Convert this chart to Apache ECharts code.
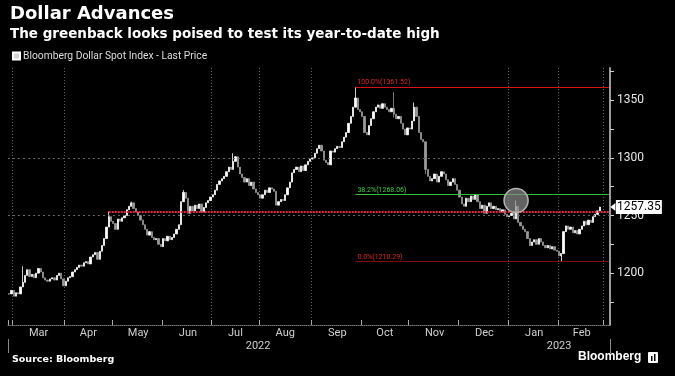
<!DOCTYPE html>
<html>
<head>
<meta charset="utf-8">
<script src="https://cdn.jsdelivr.net/npm/echarts@6/dist/echarts.min.js"></script>
<style>
html,body{margin:0;padding:0;background:#000;}
#main{width:675px;height:376px;}
</style>
</head>
<body>
<div id="main"></div>
<script>
// 美元指数 日K（Bloomberg Dollar Spot Index）
var startDate = '2022-02-25';
var endDate = '2023-03-03';
var seriesName = 'Bloomberg Dollar Spot Index - Last Price';
var firstOpen = 1182;
var closes = [
    // 2022-02
    1182, 1185,
    // 03
    1180, 1183, 1182, 1188, 1192, 1198, 1203, 1197, 1199, 1196, 1200, 1204, 1201, 1196, 1194, 1193, 1195, 1196, 1194, 1198, 1200, 1195, 1189,
    // 04
    1193, 1196, 1197, 1201, 1203, 1205, 1207, 1206, 1209, 1210, 1208, 1214, 1216, 1218, 1212, 1219, 1224, 1230, 1240, 1249, 1245,
    // 05
    1243, 1238, 1247, 1245, 1248, 1250, 1255, 1258, 1261, 1256, 1253, 1250, 1246, 1242, 1238, 1233, 1236, 1231, 1229, 1230, 1225, 1223,
    // 06
    1230, 1228, 1232, 1229, 1231, 1234, 1238, 1242, 1262, 1270, 1265, 1252, 1258, 1254, 1259, 1256, 1260, 1253, 1257, 1261, 1263, 1266,
    // 07
    1268, 1272, 1277, 1280, 1282, 1284, 1288, 1292, 1290, 1297, 1301, 1292, 1286, 1283, 1279, 1282, 1276, 1279, 1273, 1270, 1268,
    // 08
    1265, 1268, 1272, 1270, 1274, 1273, 1271, 1259, 1262, 1264, 1263, 1268, 1274, 1279, 1287, 1290, 1292, 1288, 1293, 1289, 1294, 1297, 1299,
    // 09
    1300, 1304, 1308, 1311, 1306, 1298, 1296, 1294, 1306, 1305, 1308, 1310, 1309, 1314, 1318, 1322, 1330, 1336, 1344, 1352, 1342, 1340,
    // 10
    1336, 1322, 1320, 1328, 1334, 1340, 1344, 1346, 1343, 1347, 1344, 1342, 1340, 1343, 1338, 1334, 1336, 1330, 1325, 1320, 1326,
    // 11
    1325, 1332, 1344, 1336, 1322, 1316, 1314, 1290, 1284, 1280, 1282, 1286, 1279, 1284, 1288, 1286, 1281, 1276, 1279, 1282, 1277, 1272,
    // 12
    1266, 1260, 1258, 1265, 1262, 1267, 1264, 1268, 1262, 1256, 1259, 1252, 1258, 1261, 1256, 1258, 1255, 1256, 1253, 1255, 1251, 1249,
    // 2023-01
    1250, 1252, 1247, 1258, 1244, 1241, 1238, 1236, 1230, 1224, 1227, 1229, 1225, 1230, 1227, 1224, 1222, 1224, 1221, 1223, 1220, 1219,
    // 02
    1215, 1217, 1236, 1241, 1238, 1240, 1235, 1237, 1234, 1238, 1241, 1245, 1242, 1246, 1244, 1249, 1251, 1254, 1257.35
];
// 影线
var wickDates = ['2022-03-07', '2022-04-28', '2022-05-12', '2022-06-14', '2022-07-14', '2022-09-28', '2022-10-21', '2022-11-03', '2022-11-10', '2023-01-05', '2023-02-02'];
var wickLows  = [null, null, null, null, null, null, 1335, null, 1286, null, 1210.29];
var wickHighs = [1206, 1253.5, 1262, 1272, 1304, 1361.52, 1357, 1348, null, 1263, null];

var fibStart = '2022-09-28';
var fibNames = ['100.0%', '38.2%', '0.0%'];
var fibValues = [1361.52, 1268.06, 1210.29];
var fibColors = ['#d41414', '#2fbf2f', '#7d0c0c'];
var fibLabelColors = ['#e02525', '#3ccf3c', '#e02525'];

var levelStart = '2022-04-28';
var levelValue = 1253.5;
var gridValues = [1250, 1300];
var gridDates = ['2022-03-01', '2022-04-01', '2022-07-01', '2022-08-01', '2022-09-01', '2023-01-02', '2023-02-01', '2023-03-01'];
var yLabels = [1200, 1250, 1300, 1350];
var yTicks = [1175, 1200, 1225, 1250, 1275, 1300, 1325, 1350, 1375];
var monthNames = ['Jan', 'Feb', 'Mar', 'Apr', 'May', 'Jun', 'Jul', 'Aug', 'Sep', 'Oct', 'Nov', 'Dec'];
var circleDate = '2023-01-05';
var circleValue = 1263;

// 交易日
function weekdays(from, to) {
    var out = [];
    var d = new Date(from + 'T00:00:00Z');
    var end = new Date(to + 'T00:00:00Z');
    while (d <= end) {
        var w = d.getUTCDay();
        if (w !== 0 && w !== 6) out.push(d.toISOString().slice(0, 10));
        d.setUTCDate(d.getUTCDate() + 1);
    }
    return out;
}
var dates = weekdays(startDate, endDate);
var lastDate = dates[dates.length - 1];
var lastPrice = closes[closes.length - 1];

var candles = closes.map(function (c, i) {
    var o = i === 0 ? firstOpen : closes[i - 1];
    var lo = Math.min(o, c), hi = Math.max(o, c);
    var k = wickDates.indexOf(dates[i]);
    if (k >= 0) {
        if (wickLows[k] != null) lo = wickLows[k];
        if (wickHighs[k] != null) hi = wickHighs[k];
    }
    return [o, c, lo, hi];
});

// 月份标签位置 / 月初刻度
var monthFirst = {}, monthCount = {}, monthLabelIdx = {}, monthStartIdx = {};
dates.forEach(function (d, i) {
    var key = d.slice(0, 7);
    if (monthFirst[key] == null) { monthFirst[key] = i; monthCount[key] = 0; monthStartIdx[i] = true; }
    monthCount[key]++;
});
Object.keys(monthFirst).forEach(function (key) {
    if (monthCount[key] >= 15) monthLabelIdx[monthFirst[key] + Math.floor(monthCount[key] / 2)] = key;
});
var yearFirst = {}, yearLast = {}, yearLabelIdx = {};
dates.forEach(function (d, i) {
    var y = d.slice(0, 4);
    if (yearFirst[y] == null) yearFirst[y] = i;
    yearLast[y] = i;
});
Object.keys(yearFirst).forEach(function (y) {
    yearLabelIdx[Math.round((yearFirst[y] + yearLast[y]) / 2)] = y;
});
var yearBreak = yearFirst['2023'];

// 斐波那契线，各自一个空系列
var fibSeries = fibValues.map(function (v, i) {
    return {
        type: 'line',
        data: [],
        silent: true,
        markLine: {
            silent: true,
            animation: false,
            symbol: ['none', 'none'],
            lineStyle: {color: fibColors[i], width: 1, type: 'solid', opacity: 1},
            label: {show: true, position: 'insideStartTop', formatter: fibNames[i] + '(' + v.toFixed(2) + ')',
                    color: fibLabelColors[i], fontSize: 7, fontFamily: 'Roboto', distance: [2, 1]},
            emphasis: {disabled: true},
            data: [[{coord: [fibStart, v]}, {coord: [lastDate, v]}]]
        }
    };
});

var chart = echarts.init(document.getElementById('main'));
var option = {
    backgroundColor: '#000',
    animation: false,
    title: [
        {text: 'Dollar Advances', left: 10, top: 5, padding: 0,
         textStyle: {color: '#fff', fontSize: 18, fontWeight: 'bold', fontFamily: 'DejaVu Sans'}},
        {text: 'The greenback looks poised to test its year-to-date high', left: 10, top: 27, padding: 0,
         textStyle: {color: '#fff', fontSize: 13.5, fontWeight: 'bold', fontFamily: 'DejaVu Sans'}},
        {text: 'Source: Bloomberg', left: 12, top: 355, padding: 0,
         textStyle: {color: '#fff', fontSize: 9.5, fontWeight: 'bold', fontFamily: 'DejaVu Sans'}},
        {text: 'Bloomberg', left: 578, top: 351, padding: 0,
         textStyle: {color: '#fff', fontSize: 12, fontWeight: 'bold', fontFamily: 'Liberation Sans'}}
    ],
    graphic: [
        {type: 'rect', left: 648, top: 352, shape: {width: 10, height: 11, r: 1}, style: {fill: '#fff'}},
        {type: 'rect', left: 651, top: 356, shape: {width: 1.5, height: 5}, style: {fill: '#000'}},
        {type: 'rect', left: 654, top: 354, shape: {width: 1.5, height: 7}, style: {fill: '#000'}}
    ],
    legend: {
        left: 12, top: 51, padding: 0,
        icon: 'rect', itemWidth: 7, itemHeight: 7, itemGap: 4,
        data: [{name: seriesName, itemStyle: {color: '#d0d0d0'}}],
        textStyle: {color: '#dddddd', fontSize: 10.3, fontFamily: 'Roboto', padding: [0, 0, 0, -2]}
    },
    grid: {left: 8, right: 65, top: 68, bottom: 51},
    xAxis: [{
        type: 'category',
        data: dates,
        boundaryGap: true,
        axisLine: {show: true, lineStyle: {color: '#777', width: 1, type: [1, 1]}},
        axisTick: {show: true, inside: true, length: 5, lineStyle: {color: '#aaa'},
                   interval: function (i) { return !!monthStartIdx[i]; }},
        axisLabel: {color: '#cfcfcf', fontSize: 11, fontFamily: 'Roboto', margin: 3,
                    interval: function (i) { return monthLabelIdx[i] != null; },
                    formatter: function (v) { return monthNames[parseInt(v.slice(5, 7), 10) - 1]; }},
        splitLine: {show: true, lineStyle: {color: '#5c5c5c', width: 1, type: [1, 2]},
                    interval: function (i, v) { return gridDates.indexOf(v) >= 0; }}
    }, {
        type: 'category',
        data: dates,
        boundaryGap: true,
        position: 'bottom',
        offset: 14,
        axisLine: {show: false},
        axisTick: {show: true, length: 14, lineStyle: {color: '#888'},
                   interval: function (i) { return i === yearBreak; }},
        axisLabel: {color: '#cfcfcf', fontSize: 11, fontFamily: 'Roboto', margin: 2,
                    interval: function (i) { return yearLabelIdx[i] != null; },
                    formatter: function (v) { return v.slice(0, 4); }},
        splitLine: {show: false}
    }],
    yAxis: {
        type: 'value',
        position: 'right',
        min: 1155,
        max: 1378,
        axisLine: {show: true, lineStyle: {color: '#9a9a9a', width: 2}},
        axisTick: {show: true, length: 4, customValues: yTicks, lineStyle: {color: '#cccccc'}},
        axisLabel: {show: true, customValues: yLabels, color: '#e6e6e6', fontSize: 12, fontFamily: 'Roboto', margin: 7,
                    formatter: function (v) { return String(v); }},
        splitLine: {show: false}
    },
    series: [{
        name: seriesName,
        type: 'candlestick',
        xAxisIndex: 0,
        data: candles,
        barWidth: '80%',
        itemStyle: {color: '#ffffff', color0: '#999999', borderColor: '#ffffff', borderColor0: '#999999', borderWidth: 0.8},
        markLine: {
            silent: true,
            symbol: ['none', 'none'],
            animation: false,
            label: {show: false},
            data: gridValues.map(function (v) {
                return {yAxis: v, lineStyle: {color: '#666', width: 1, type: [2, 3]}};
            }).concat([[
                {coord: [levelStart, levelValue], lineStyle: {color: '#e42a40', width: 2, type: [2, 1]}},
                {coord: [lastDate, levelValue]}
            ]])
        },
        markPoint: {
            silent: true,
            animation: false,
            data: [
                {coord: [circleDate, circleValue], symbol: 'circle', symbolSize: 24,
                 itemStyle: {color: 'rgba(140,140,140,0.7)', borderColor: '#b5b5b5', borderWidth: 1.5},
                 label: {show: false}},
                {coord: [lastDate, lastPrice], symbol: 'triangle', symbolSize: [8, 5], symbolRotate: 90, symbolOffset: [4, 0],
                 itemStyle: {color: '#fff'}, label: {show: false}},
                {coord: [lastDate, lastPrice], symbol: 'rect', symbolSize: [46, 14], symbolOffset: [30, 0],
                 itemStyle: {color: '#fff'},
                 label: {show: true, position: 'inside', formatter: lastPrice.toFixed(2), color: '#000', fontSize: 12, fontFamily: 'Roboto'}}
            ]
        }
    }].concat(fibSeries)
};
chart.setOption(option);
</script>
</body>
</html>
